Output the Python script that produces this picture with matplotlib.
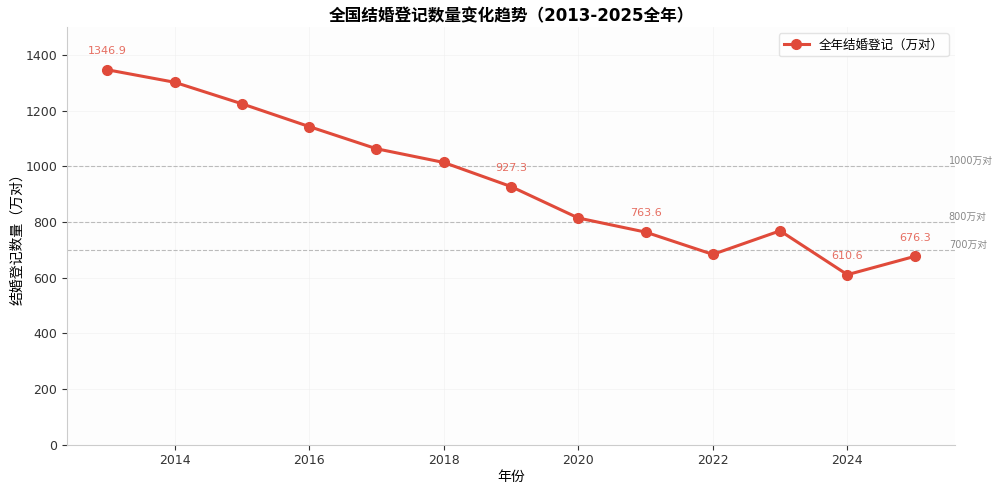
import matplotlib
matplotlib.use("Agg")
import matplotlib.pyplot as plt

plt.rcParams['font.family'] = ['DejaVu Sans', 'Noto Sans CJK SC']
plt.rcParams['axes.unicode_minus'] = False

years = [2013, 2014, 2015, 2016, 2017, 2018, 2019, 2020, 2021, 2022, 2023, 2024, 2025]
marriages = [1346.9, 1302.0, 1224.7, 1142.8, 1063.1, 1013.9, 927.3, 814.3, 763.6, 683.5, 768.2, 610.6, 676.3]
labeled_years = [2013, 2019, 2021, 2024, 2025]
ref_values = [1000, 800, 700]
ref_labels = ['1000万对', '800万对', '700万对']

red = '#e04a3a'

fig, ax = plt.subplots(figsize=(10, 4.94), dpi=100)
fig.subplots_adjust(left=0.067, right=0.955, top=0.945, bottom=0.1)
ax.set_facecolor('#fdfdfd')

ax.plot(years, marriages, color=red, linewidth=2.2, marker='o', markersize=7,
        label='全年结婚登记（万对）', zorder=3)

for yr, v in zip(years, marriages):
    if yr in labeled_years:
        ax.annotate(f'{v:.1f}', (yr, v), textcoords='offset points', xytext=(0, 10),
                    ha='center', va='bottom', fontsize=8, color=red, alpha=0.8)

for v, lab in zip(ref_values, ref_labels):
    ax.axhline(v, color='#bbbbbb', linestyle='--', linewidth=0.8, zorder=1)
    ax.text(0.993, v, lab, transform=ax.get_yaxis_transform(), fontsize=7,
            color='#888888', va='bottom', ha='left')

ax.set_ylim(0, 1500)
ax.grid(True, color='#eeeeee', linewidth=0.6, alpha=0.6)
ax.set_axisbelow(True)

ax.spines['top'].set_visible(False)
ax.spines['right'].set_visible(False)
ax.spines['left'].set_color('#cccccc')
ax.spines['bottom'].set_color('#cccccc')
ax.tick_params(colors='#333333', labelsize=9)

ax.set_title('全国结婚登记数量变化趋势（2013-2025全年）', fontsize=12, fontweight='bold', pad=4)
ax.set_xlabel('年份', fontsize=10, labelpad=2)
ax.set_ylabel('结婚登记数量（万对）', fontsize=10, labelpad=1)
ax.legend(loc='upper right', fontsize=9, frameon=True, edgecolor='#dddddd')

fig.savefig('out.png', dpi=100)
